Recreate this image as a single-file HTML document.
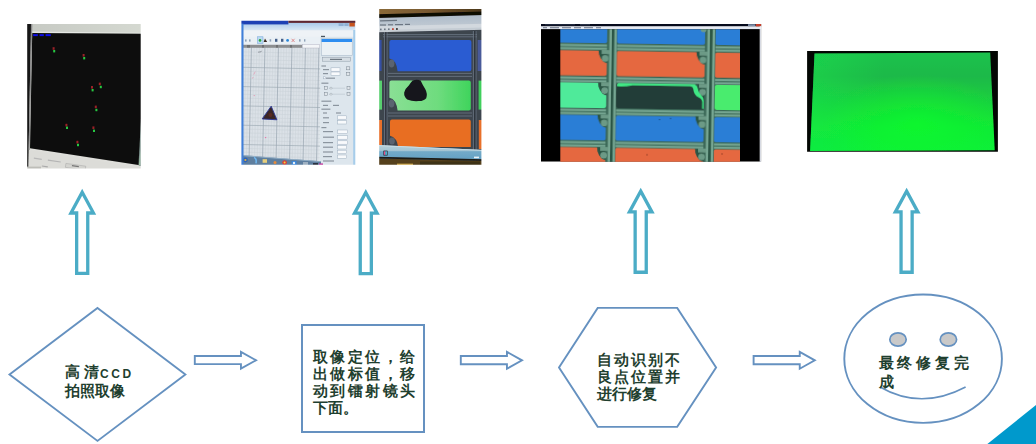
<!DOCTYPE html>
<html lang="zh">
<head>
<meta charset="utf-8">
<title>Repair flow</title>
<style>
html,body{margin:0;padding:0;background:#fff;}
body{width:1036px;height:444px;position:relative;overflow:hidden;font-family:"Liberation Serif",serif;}
#art{position:absolute;left:0;top:0;width:1036px;height:444px;display:block;}
.t{position:absolute;color:#1f3f2f;font-family:"Liberation Serif",serif;font-weight:bold;font-size:14.6px;line-height:17.3px;white-space:nowrap;margin:0;}
.t span.l{display:block;}
.ccd{font-family:"Liberation Sans",sans-serif;font-size:12px;letter-spacing:2.6px;font-weight:bold;margin-left:-2.6px;position:relative;top:0.6px;}
</style>
</head>
<body>
<svg id="art" width="1036" height="444" viewBox="0 0 1036 444">
  <!-- PHOTOS -->
  <defs>
    <filter id="b05" x="-5%" y="-5%" width="110%" height="110%"><feGaussianBlur stdDeviation="0.5"/></filter>
    <filter id="b06" x="-5%" y="-5%" width="110%" height="110%"><feGaussianBlur stdDeviation="0.6"/></filter>
    <filter id="b08" x="-5%" y="-5%" width="110%" height="110%"><feGaussianBlur stdDeviation="0.8"/></filter>
    <filter id="b12" x="-5%" y="-5%" width="110%" height="110%"><feGaussianBlur stdDeviation="1.2"/></filter>
    <clipPath id="c1"><rect x="27.2" y="24" width="113.5" height="144.6"/></clipPath>
    <clipPath id="c4"><rect x="541" y="24" width="220.3" height="137.7"/></clipPath>
    <clipPath id="c4g"><rect x="560.3" y="29.2" width="179.7" height="133"/></clipPath>
    <clipPath id="c5"><rect x="807.1" y="51" width="190.8" height="100.8"/></clipPath>
    <linearGradient id="g1top" x1="0" y1="0" x2="1" y2="0"><stop offset="0" stop-color="#c6c9c3"/><stop offset="1" stop-color="#d5d9d1"/></linearGradient>
    <linearGradient id="g5" x1="0" y1="0" x2="0" y2="1"><stop offset="0" stop-color="#1cc24e"/><stop offset="0.24" stop-color="#1fb948"/><stop offset="0.5" stop-color="#1ad03f"/><stop offset="0.75" stop-color="#12e836"/><stop offset="1" stop-color="#0cf038"/></linearGradient>
    <radialGradient id="g5r" cx="0.58" cy="0.72" r="0.5"><stop offset="0" stop-color="#0afc2a" stop-opacity="0.7"/><stop offset="1" stop-color="#0afc2a" stop-opacity="0"/></radialGradient>
    <linearGradient id="g5l" x1="0" y1="0" x2="1" y2="0"><stop offset="0" stop-color="#14e64c" stop-opacity="0.45"/><stop offset="0.4" stop-color="#14e64c" stop-opacity="0"/></linearGradient>
  </defs>

  <!-- photo 1 : CCD capture (black screen with markers) -->
  <g clip-path="url(#c1)">
    <g filter="url(#b05)">
      <rect x="24" y="20" width="120" height="152" fill="#dededa"/>
      <rect x="24" y="20" width="120" height="16" fill="url(#g1top)"/>
      <polygon points="31,31.6 144,32.8 144,33.8 31,32.8" fill="#e6e8e4"/>
      <polygon points="32.2,33 144,33.8 144,166.4 138.4,165 30,148.3" fill="#0f100f"/>
      <polygon points="26,22 31.2,22 28.2,170 26,170" fill="#161616"/>
      <polygon points="31,22 32.4,22 29.6,150 28.6,150" fill="#8c8c8c"/>
            <polygon points="141.4,112 138.5,165.2 141.4,166" fill="#7f9590"/>
      <polygon points="140.6,150 138.9,165.2 140.2,165.6" fill="#9fc4a4"/>
      <rect x="33.2" y="34.2" width="4.6" height="1.9" fill="#1010f0"/><rect x="39.6" y="34.2" width="4.2" height="1.9" fill="#1010f0"/><rect x="45.6" y="34.2" width="5.2" height="1.9" fill="#1010f0"/>
      <!-- bottom ui hints -->
      <polygon points="29,150 144,168 144,172 29,172" fill="#dcdcd8"/>
      <rect x="34" y="157.6" width="8" height="1.2" fill="#b8b8b8" transform="rotate(8 34 157)"/>
      <rect x="48" y="159.6" width="13" height="1.2" fill="#b4b4b4" transform="rotate(8 48 159)"/>
      <rect x="66" y="163.4" width="20" height="4" fill="#d4d4d0" stroke="#a8a8a8" stroke-width="0.5" transform="rotate(8 66 163)"/>
      <rect x="72" y="165" width="7" height="1.3" fill="#777" transform="rotate(8 72 165)"/>
      <rect x="27" y="166.6" width="14" height="2.4" fill="#bdbdb8"/>
      <rect x="42" y="165.4" width="6" height="1.2" fill="#aaa" transform="rotate(8 42 165)"/>
    </g>
    <g filter="url(#b05)">
      <g fill="#9a2028">
        <rect x="52.6" y="47.2" width="2" height="2.6"/><rect x="82.6" y="54" width="2" height="2.6"/>
        <rect x="91" y="86" width="2" height="2.6"/><rect x="98.8" y="82.6" width="2" height="2.6"/>
        <rect x="94.8" y="105.6" width="2" height="2.6"/><rect x="65.4" y="123.8" width="2" height="2.6"/>
        <rect x="92.4" y="126.4" width="2" height="2.6"/><rect x="76.4" y="140.8" width="2" height="2.6"/>
      </g>
      <g fill="#28c842">
        <rect x="53.2" y="50" width="2" height="2.4"/><rect x="83.2" y="57" width="2" height="2.4"/>
        <rect x="91.6" y="89" width="2" height="2.4"/><rect x="99.8" y="85.8" width="2" height="2.4"/>
        <rect x="95.4" y="108.8" width="2" height="2.4"/><rect x="66" y="126.6" width="2" height="2.4"/>
        <rect x="93" y="129.6" width="2" height="2.4"/><rect x="77" y="143.8" width="2" height="2.4"/>
      </g>
    </g>
  </g>

  <defs>
    <clipPath id="c2"><rect x="241.4" y="20.8" width="113.9" height="144"/></clipPath>
    <clipPath id="c3"><rect x="379.2" y="9.1" width="102.2" height="155.7"/></clipPath>
    <linearGradient id="g2bg" x1="0" y1="0" x2="1" y2="1"><stop offset="0" stop-color="#e9eef2"/><stop offset="1" stop-color="#dfe6ea"/></linearGradient>
    <linearGradient id="g2title" x1="0" y1="0" x2="0" y2="1"><stop offset="0" stop-color="#a9c9ea"/><stop offset="1" stop-color="#dbe8f4"/></linearGradient>
    <linearGradient id="g3bez" x1="0" y1="0" x2="1" y2="0"><stop offset="0" stop-color="#8a6a3a"/><stop offset="0.5" stop-color="#785830"/><stop offset="1" stop-color="#463417"/></linearGradient>
    <linearGradient id="g3chr" x1="0" y1="0" x2="0" y2="1"><stop offset="0" stop-color="#a4b2c2"/><stop offset="0.55" stop-color="#b6c2ce"/><stop offset="1" stop-color="#c9cfd5"/></linearGradient>
    <linearGradient id="g3grn" x1="0" y1="0" x2="1" y2="0"><stop offset="0" stop-color="#8adf95"/><stop offset="0.6" stop-color="#6edc7e"/><stop offset="1" stop-color="#3fd45c"/></linearGradient>
    <linearGradient id="g3task" x1="0" y1="0" x2="0" y2="1"><stop offset="0" stop-color="#b6d0da"/><stop offset="0.34" stop-color="#a6c6d4"/><stop offset="0.42" stop-color="#72aac8"/><stop offset="1" stop-color="#629fc2"/></linearGradient>
  </defs>

  <!-- photo 2 : laser software, grid with triangle target -->
  <g clip-path="url(#c2)">
    <g filter="url(#b06)">
      <rect x="238" y="18" width="120" height="150" fill="url(#g2bg)"/>
      <!-- top bars -->
      <rect x="238" y="22.8" width="120" height="7.8" fill="url(#g2title)"/>
      <rect x="238" y="18" width="50.4" height="6.4" fill="#1d40b4"/>
      <rect x="288.4" y="18" width="70" height="4.9" fill="#5e2630"/>
      <rect x="238" y="30.4" width="120" height="6.6" fill="#eef2f6"/>
      <rect x="338.6" y="23.2" width="5" height="2.8" fill="#8fb0d4"/><rect x="344.4" y="23.2" width="4.2" height="2.8" fill="#8fb0d4"/><rect x="349.4" y="22.9" width="5.4" height="3.6" fill="#c8521e"/>
      <!-- toolbar -->
      <rect x="238" y="36.6" width="82" height="7.6" fill="#eaf0f5"/>
      <rect x="257.6" y="36.8" width="5.4" height="6.6" fill="#bcd9f2" stroke="#6aa0d8" stroke-width="0.5"/>
      <circle cx="260" cy="40.4" r="1.3" fill="#2ea83a"/>
      <path d="M263.6 42 l1.4 -3.4 l2.2 3.4 z" fill="#3a2a24"/>
      <g fill="#8fa2b8"><rect x="245" y="39.4" width="1.6" height="2.2"/><rect x="249" y="39.4" width="1.6" height="2.2"/><rect x="269.6" y="39.2" width="1.6" height="2.4"/><rect x="299" y="39.2" width="1.6" height="2.4"/><rect x="304" y="39.2" width="1.4" height="2.4"/></g>
      <g fill="#44608a"><rect x="275" y="38.8" width="2.4" height="3"/><rect x="281" y="38.8" width="2.4" height="3"/></g>
      <circle cx="287.6" cy="40.4" r="1.4" fill="#2a86d8"/>
      <path d="M291.6 38.8 l3 3.2 m0 -3.2 l-3 3.2" stroke="#d86a6a" stroke-width="0.7" fill="none"/>
      <!-- ruler -->
      <!-- grid area -->
      <g transform="rotate(1.2 243 48)">
        <rect x="243" y="46" width="78" height="124" fill="#dbe1e7"/>
        <path d="M243 51.9H322M243 55.7H322M243 59.6H322M243 63.4H322M243 71.2H322M243 75.0H322M243 78.9H322M243 82.7H322M243 90.5H322M243 94.3H322M243 98.2H322M243 102.0H322M243 109.8H322M243 113.6H322M243 117.5H322M243 121.3H322M243 129.1H322M243 132.9H322M243 136.8H322M243 140.6H322M243 148.4H322M243 152.2H322M243 156.1H322M243 159.9H322M243 167.7H322" stroke="#c9d1d8" stroke-width="0.5" fill="none"/>
        <path d="M243.3 46V170M246.0 46V170M248.7 46V170M254.1 46V170M256.8 46V170M259.5 46V170M262.2 46V170M267.6 46V170M270.3 46V170M273.0 46V170M275.7 46V170M281.1 46V170M283.8 46V170M286.5 46V170M289.2 46V170M294.6 46V170M297.3 46V170M300.0 46V170M302.7 46V170M308.1 46V170M310.8 46V170M313.5 46V170M316.2 46V170" stroke="#c9d1d8" stroke-width="0.5" fill="none"/>
        <path d="M243 67.3H322M243 86.6H322M243 105.9H322M243 125.2H322M243 144.5H322M243 163.8H322" stroke="#a0adb6" stroke-width="0.7" fill="none"/>
        <path d="M251.4 46V170M264.9 46V170M278.4 46V170M291.9 46V170M305.4 46V170M318.9 46V170" stroke="#97a5af" stroke-width="0.7" fill="none"/>
      </g>
      <rect x="243" y="44.8" width="59.4" height="3" fill="#8c8e90"/>
      <rect x="302.4" y="44.6" width="17" height="3.4" fill="#f4f6f8" stroke="#aab" stroke-width="0.4"/>
      <g fill="#6e7072"><rect x="247" y="45" width="3" height="2.6"/><rect x="262" y="45" width="2" height="2.6"/><rect x="276" y="45" width="2" height="2.6"/><rect x="290" y="45" width="2" height="2.6"/></g>
      <!-- small marks -->
      <path d="M258 52.2 l3 -0.4 l0.6 -1" stroke="#6a7078" stroke-width="0.6" fill="none"/>
      <path d="M253.8 74.6 l1.4 -3 M252.4 78.6 l0.8 -1.6" stroke="#e48aa8" stroke-width="0.6" fill="none"/>
      <circle cx="254.2" cy="95.6" r="0.6" fill="#e48aa8"/><circle cx="265.6" cy="137.6" r="0.7" fill="#ec6aa0"/>
      <!-- triangle -->
      <path d="M271.2 106.2 L276.9 119.8 L262.2 118.9 Z" fill="#3a2826" stroke="#2a3696" stroke-width="0.9" stroke-linejoin="round"/>
      <circle cx="270.4" cy="115" r="2" fill="#5a2a22"/>
      <!-- right panel -->
      <rect x="320.2" y="36.8" width="38" height="132" fill="#dde6ed"/>
      <rect x="321.4" y="38.8" width="30.8" height="16.6" fill="#ebf1f5" stroke="#9fb2c4" stroke-width="0.5"/>
      <rect x="321.6" y="39" width="30.4" height="3" fill="#2e8df0"/>
      <rect x="321" y="35.8" width="4" height="1.3" fill="#4a5560"/>
      <rect x="322.7" y="57.2" width="28" height="4" fill="#d6dee4" stroke="#8d9aa6" stroke-width="0.5"/>
      <rect x="330" y="58.8" width="12" height="1.2" fill="#6f7a84"/>
      <g fill="#8b959f">
        <rect x="321.4" y="65.4" width="4.6" height="1.2"/><rect x="323" y="69" width="6" height="1.2"/><rect x="323" y="73" width="5" height="1.2"/><rect x="326" y="77.6" width="9" height="1.2"/>
        <rect x="321.4" y="82.6" width="7" height="1.2"/>
        <rect x="321.4" y="100.6" width="10" height="1.2"/><rect x="323" y="104.8" width="5" height="1.2"/><rect x="333" y="104.8" width="6" height="1.2"/>
        <rect x="321.4" y="108.6" width="9" height="1.2"/><rect x="323" y="112.4" width="4" height="1.2"/><rect x="336" y="112.4" width="5" height="1.2"/>
        <rect x="323" y="117.2" width="6" height="1.2"/><rect x="323" y="122" width="6" height="1.2"/>
        <rect x="321.4" y="127" width="5" height="1.2"/><rect x="323" y="131" width="10" height="1.2"/><rect x="323" y="136.6" width="11" height="1.2"/>
        <rect x="323" y="142" width="10" height="1.2"/><rect x="323" y="146.6" width="10" height="1.2"/><rect x="323" y="151.4" width="10" height="1.2"/>
        <rect x="323" y="156" width="9" height="1.2"/><rect x="323" y="160.4" width="11" height="1.2"/>
      </g>
      <g fill="#f8fafc" stroke="#9fb0c0" stroke-width="0.5">
        <rect x="331" y="67.8" width="9" height="3.4"/><rect x="331" y="72" width="9" height="3.4"/><rect x="323.6" y="76.8" width="2" height="2"/>
        <rect x="337.6" y="115.8" width="9" height="3.4"/><rect x="337.6" y="120.6" width="9" height="3.4"/>
        <rect x="337.6" y="130" width="10" height="3.6"/><rect x="337.6" y="135.6" width="10" height="3.6"/><rect x="337.6" y="140.8" width="10" height="3.4"/>
        <rect x="337.6" y="145.6" width="9" height="3.4"/><rect x="337.6" y="150.2" width="9" height="3.4"/><rect x="337.6" y="155" width="9" height="3.4"/>
      </g>
      <g fill="#dfe5ea" stroke="#7c8792" stroke-width="0.5">
        <rect x="346.6" y="66.8" width="3.2" height="3"/><rect x="346.6" y="72.4" width="3.2" height="3"/>
        <rect x="324.4" y="86.6" width="3" height="3"/><rect x="347" y="86.6" width="3" height="3"/><rect x="324.4" y="92.6" width="3" height="3"/><rect x="347" y="92.6" width="3" height="3"/>
      </g>
      <path d="M329 88.2H345M329 94.2H345" stroke="#aebac4" stroke-width="0.5"/>
      <circle cx="331" cy="88.2" r="1" fill="#f4f6f8" stroke="#7a8894" stroke-width="0.4"/><circle cx="331" cy="94.2" r="1" fill="#f4f6f8" stroke="#7a8894" stroke-width="0.4"/>
      <!-- taskbar -->
      <polygon points="238,154.8 321,161.2 321,170 238,170" fill="#5f7f9f"/>
      <polygon points="238,154.8 321,161.2 321,162 238,155.8" fill="#9bb6cc"/>
      <circle cx="245.4" cy="160" r="2.4" fill="#2f63b8"/><circle cx="245.4" cy="160" r="1.1" fill="#e8b43a"/>
      <path d="M254 157.4 q3 1 2 6" stroke="#6fb6ee" stroke-width="1.6" fill="none"/>
      <rect x="262.6" y="159.2" width="4.4" height="3.6" fill="#e8cf7c"/>
      <circle cx="275" cy="162.4" r="1.5" fill="#e88c3a"/>
      <circle cx="284.6" cy="162.6" r="2.4" fill="#d8443a"/><circle cx="284.6" cy="162.6" r="1" fill="#f2d23a"/>
      <rect x="291.6" y="161" width="5" height="4" fill="#3b86d8"/><circle cx="294" cy="163" r="1.2" fill="#e8f0f8"/>
      <rect x="303" y="162" width="5" height="3" fill="#9fb1c2"/>
      <rect x="313" y="163" width="5" height="2.4" fill="#2a3340"/><rect x="319" y="163.4" width="4" height="2" fill="#c33ea0"/>
      <!-- window edges -->
      <rect x="238" y="23.6" width="5.5" height="150" fill="#3f7fd8"/>
      
      <rect x="353.2" y="30" width="3" height="140" fill="#a6cdea"/>
    </g>
  </g>

  <!-- photo 3 : microscope view on monitor, black particle on green cell -->
  <g clip-path="url(#c3)">
    <g filter="url(#b06)">
      <rect x="376" y="6" width="110" height="162" fill="#3d444e"/>
      <!-- neighbours left/right -->
      <rect x="376" y="40" width="5.6" height="31" fill="#3450a4"/><rect x="376" y="80.6" width="6" height="29" fill="#58d070"/><rect x="376" y="120" width="6" height="27" fill="#e8702a"/>
      <rect x="477.6" y="40" width="8" height="31" fill="#4a5a9a"/><rect x="478.6" y="80.6" width="8" height="29" fill="#3fcf5c"/><rect x="478.8" y="120" width="8" height="29" fill="#e8702a"/>
      <!-- frame light lines -->
      <g stroke="#687380" stroke-width="0.9" fill="none">
        <path d="M383 34.6H477M383 36.8H477M388 73.4H472M388 76.4H472M388 113H472M388 116H472"/>
        <path d="M384.6 31V150M387 31V150M473.4 31V150M476 31V150"/>
      </g>
      <g stroke="#2a3038" stroke-width="1" fill="none"><path d="M385.8 31V150M474.8 31V150"/></g>
      <!-- cells -->
      <path d="M391.4 40 H469.4 q2 0 2 2 V69.2 q0 2 -2 2 H397.6 q-0.6 -5.4 -2.4 -8.6 q-2.4 -3.6 -5.8 -4.2 V42 q0 -2 2 -2 Z" fill="#2a5bd2"/>
      <path d="M391.4 80.6 H468.8 q2 0 2 2 V108.5 q0 2 -2 2 H397.6 q-0.6 -5.4 -2.4 -8.6 q-2.4 -3.6 -5.8 -4.2 V82.6 q0 -2 2 -2 Z" fill="url(#g3grn)"/>
      <path d="M392 119.6 H468.8 q2 0 2 2 V147 H398 q-0.6 -5.4 -2.4 -7.6 q-2.4 -3 -5.6 -3.6 V121.6 q0 -2 2 -2 Z" fill="#e86e20"/>
      <g fill="#5a6470"><ellipse cx="391.6" cy="63.6" rx="2.8" ry="4"/><ellipse cx="391.6" cy="103.6" rx="2.8" ry="4"/><ellipse cx="392" cy="141" rx="2.8" ry="3.6"/></g>
      <!-- particle -->
      <path d="M412.6 80.6 q4.4 -1.6 8 0 q1.8 4 4.6 8.4 q2.6 4.6 1 9.2 q-2.6 3 -7.6 2.8 q-6 0.6 -11.4 -1.6 q-3.4 -2.8 -3 -7 q1.2 -4.2 4.6 -7 q1.8 -2.4 3.8 -4.8 Z" fill="#15171a"/>
      <!-- window chrome + bezel -->
      <polygon points="376,6 486,6 486,29.8 376,32.2" fill="url(#g3chr)"/>
      <polygon points="376,26.4 486,23.6 486,27.4 376,30" fill="#d2d8de"/>
      <polygon points="376,6 486,6 486,14.9 376,18" fill="#0c0806"/>
      <polygon points="376,6 486,6 486,11.5 376,14.2" fill="url(#g3bez)"/>
      <g fill="#6c7682"><rect x="380" y="20.2" width="17" height="1.2" transform="rotate(-1.5 380 20)"/><rect x="380" y="24.4" width="6" height="1.2"/><rect x="388" y="24.2" width="5" height="1.2"/><rect x="395" y="24" width="8" height="1.2"/><rect x="405" y="23.8" width="5" height="1.2"/>
      <rect x="380" y="28.6" width="1.6" height="1.6"/><rect x="384" y="28.5" width="1.6" height="1.6"/><rect x="388" y="28.4" width="1.6" height="1.6"/></g>
      <rect x="392" y="28.2" width="1.8" height="1.8" fill="#c34a3a"/><rect x="396" y="28.1" width="1.8" height="1.8" fill="#3a3a3a"/>
      <!-- taskbar -->
      <polygon points="376,145 486,150 486,161 376,158.6" fill="url(#g3task)"/>
      <polygon points="376,145 486,150 486,150.8 376,145.9" fill="#c9dde6"/>
      <rect x="383.2" y="150.4" width="4.6" height="5.4" rx="0.8" fill="#3a4a5a"/><rect x="384" y="151.4" width="1.4" height="3.4" fill="#e84a8a"/><rect x="385.4" y="151.4" width="1.4" height="3.4" fill="#4ad0e8"/>
      <rect x="474" y="156.6" width="5" height="1.6" fill="#e8f2f8"/>
      <polygon points="376,158.4 486,160.8 486,168 376,168" fill="#54401c"/>
      <polygon points="376,156.8 486,159.2 486,161 376,158.6" fill="#1e1a14"/>
      <rect x="397" y="163.6" width="16" height="1.6" fill="#c8a040"/><rect x="420" y="161.6" width="60" height="3.4" fill="#3e3018"/>
    </g>
  </g>

  <!-- photo 4 : microscope view with defect cell -->
  <g clip-path="url(#c4)">
    <rect x="541" y="24" width="220.3" height="137.7" fill="#000"/>
    <g clip-path="url(#c4g)">
    <g filter="url(#b06)" transform="rotate(0.9 660 93)">
      <rect x="540" y="10" width="230" height="170" fill="#3b6857"/>
      <g fill="#76a692"><rect x="540" y="45.4" width="230" height="2.1"/><rect x="540" y="48.6" width="230" height="2.1"/><rect x="540" y="78.1" width="230" height="2.1"/><rect x="540" y="81.3" width="230" height="2.1"/><rect x="540" y="110.2" width="230" height="2.1"/><rect x="540" y="113.4" width="230" height="2.1"/><rect x="540" y="142.5" width="230" height="2.1"/><rect x="540" y="145.7" width="230" height="2.1"/></g>
      <g fill="#3b6857"><rect x="606.3" y="10" width="10" height="170"/><rect x="704.2" y="10" width="10.6" height="170"/></g>
      <g fill="#76a692"><rect x="608.6" y="10" width="2.4" height="170"/><rect x="613.4" y="10" width="2.4" height="170"/><rect x="706.6" y="10" width="2.6" height="170"/><rect x="711.6" y="10" width="2.5" height="170"/></g>
      <g fill="#2b5445"><rect x="611" y="10" width="2.3" height="170"/><rect x="709.2" y="10" width="2.3" height="170"/></g>
      <path d="M540.0 -20.0 H604.5 Q606.3 -20.0 606.3 -18.2 V42.3 Q606.3 44.1 604.5 44.1 H540.0 Z" fill="#2a7ed6"/>
      <path d="M597.7 51.3 L598.3 55.3 Q599.7 59.7 602.3 62.3 Q604.3 63.7 606.5 64.1 V51.3 Z" fill="#2b5445"/><rect x="601.1" y="51.0" width="8" height="3.9" fill="#6c9a86"/><circle cx="604.6" cy="59.4" r="3.3" fill="#6c9a86"/><path d="M540.0 51.7 H597.9 L598.3 55.3 Q599.7 59.7 602.3 62.3 Q604.3 63.7 606.3 64.1 V75.0 Q606.3 76.8 604.5 76.8 H540.0 Z" fill="#e5673f"/>
      <path d="M597.7 83.5 L598.3 87.5 Q599.7 91.9 602.3 94.5 Q604.3 95.9 606.5 96.3 V83.5 Z" fill="#2b5445"/><rect x="601.1" y="83.2" width="8" height="3.9" fill="#6c9a86"/><circle cx="604.6" cy="91.6" r="3.3" fill="#6c9a86"/><path d="M540.0 83.9 H597.9 L598.3 87.5 Q599.7 91.9 602.3 94.5 Q604.3 95.9 606.3 96.3 V107.1 Q606.3 108.9 604.5 108.9 H540.0 Z" fill="#4fea9a"/>
      <path d="M597.7 115.8 L598.3 119.8 Q599.7 124.2 602.3 126.8 Q604.3 128.2 606.5 128.6 V115.8 Z" fill="#2b5445"/><rect x="601.1" y="115.5" width="8" height="3.9" fill="#6c9a86"/><circle cx="604.6" cy="123.9" r="3.3" fill="#6c9a86"/><path d="M540.0 116.2 H597.9 L598.3 119.8 Q599.7 124.2 602.3 126.8 Q604.3 128.2 606.3 128.6 V139.4 Q606.3 141.2 604.5 141.2 H540.0 Z" fill="#2a7ed6"/>
      <path d="M597.7 148.2 L598.3 152.2 Q599.7 156.6 602.3 159.2 Q604.3 160.6 606.5 161.0 V148.2 Z" fill="#2b5445"/><rect x="601.1" y="147.9" width="8" height="3.9" fill="#6c9a86"/><circle cx="604.6" cy="156.3" r="3.3" fill="#6c9a86"/><path d="M540.0 148.6 H597.9 L598.3 152.2 Q599.7 156.6 602.3 159.2 Q604.3 160.6 606.3 161.0 V188.2 Q606.3 190.0 604.5 190.0 H540.0 Z" fill="#e5673f"/>
      <path d="M618.1 -20.0 H702.4 Q704.2 -20.0 704.2 -18.2 V42.3 Q704.2 44.1 702.4 44.1 H618.1 Q616.3 44.1 616.3 42.3 V-18.2 Q616.3 -20.0 618.1 -20.0 Z" fill="#2a7ed6"/>
      <path d="M695.6 51.3 L696.2 55.3 Q697.6 59.7 700.2 62.3 Q702.2 63.7 704.4 64.1 V51.3 Z" fill="#2b5445"/><rect x="699.0" y="51.0" width="8" height="3.9" fill="#6c9a86"/><circle cx="702.5" cy="59.4" r="3.3" fill="#6c9a86"/><path d="M618.1 51.7 H695.8 L696.2 55.3 Q697.6 59.7 700.2 62.3 Q702.2 63.7 704.2 64.1 V75.0 Q704.2 76.8 702.4 76.8 H618.1 Q616.3 76.8 616.3 75.0 V53.5 Q616.3 51.7 618.1 51.7 Z" fill="#e5673f"/>
      <path d="M695.6 83.5 L696.2 87.5 Q697.6 91.9 700.2 94.5 Q702.2 95.9 704.4 96.3 V83.5 Z" fill="#2b5445"/><rect x="699.0" y="83.2" width="8" height="3.9" fill="#6c9a86"/><circle cx="702.5" cy="91.6" r="3.3" fill="#6c9a86"/><path d="M618.1 83.9 H695.8 L696.2 87.5 Q697.6 91.9 700.2 94.5 Q702.2 95.9 704.2 96.3 V107.1 Q704.2 108.9 702.4 108.9 H618.1 Q616.3 108.9 616.3 107.1 V85.7 Q616.3 83.9 618.1 83.9 Z" fill="#223e37"/>
      <path d="M695.6 115.8 L696.2 119.8 Q697.6 124.2 700.2 126.8 Q702.2 128.2 704.4 128.6 V115.8 Z" fill="#2b5445"/><rect x="699.0" y="115.5" width="8" height="3.9" fill="#6c9a86"/><circle cx="702.5" cy="123.9" r="3.3" fill="#6c9a86"/><path d="M618.1 116.2 H695.8 L696.2 119.8 Q697.6 124.2 700.2 126.8 Q702.2 128.2 704.2 128.6 V139.4 Q704.2 141.2 702.4 141.2 H618.1 Q616.3 141.2 616.3 139.4 V118.0 Q616.3 116.2 618.1 116.2 Z" fill="#2a7ed6"/>
      <path d="M695.6 148.2 L696.2 152.2 Q697.6 156.6 700.2 159.2 Q702.2 160.6 704.4 161.0 V148.2 Z" fill="#2b5445"/><rect x="699.0" y="147.9" width="8" height="3.9" fill="#6c9a86"/><circle cx="702.5" cy="156.3" r="3.3" fill="#6c9a86"/><path d="M618.1 148.6 H695.8 L696.2 152.2 Q697.6 156.6 700.2 159.2 Q702.2 160.6 704.2 161.0 V188.2 Q704.2 190.0 702.4 190.0 H618.1 Q616.3 190.0 616.3 188.2 V150.4 Q616.3 148.6 618.1 148.6 Z" fill="#e5673f"/>
      <path d="M716.6 -20.0 H768.2 Q770.0 -20.0 770.0 -18.2 V42.3 Q770.0 44.1 768.2 44.1 H716.6 Q714.8 44.1 714.8 42.3 V-18.2 Q714.8 -20.0 716.6 -20.0 Z" fill="#2a7ed6"/>
      <path d="M716.6 51.7 H768.2 Q770.0 51.7 770.0 53.5 V75.0 Q770.0 76.8 768.2 76.8 H716.6 Q714.8 76.8 714.8 75.0 V53.5 Q714.8 51.7 716.6 51.7 Z" fill="#e5673f"/>
      <path d="M716.6 83.9 H768.2 Q770.0 83.9 770.0 85.7 V107.1 Q770.0 108.9 768.2 108.9 H716.6 Q714.8 108.9 714.8 107.1 V85.7 Q714.8 83.9 716.6 83.9 Z" fill="#48ec6e"/>
      <path d="M716.6 116.2 H768.2 Q770.0 116.2 770.0 118.0 V139.4 Q770.0 141.2 768.2 141.2 H716.6 Q714.8 141.2 714.8 139.4 V118.0 Q714.8 116.2 716.6 116.2 Z" fill="#2a7ed6"/>
      <path d="M716.6 148.6 H768.2 Q770.0 148.6 770.0 150.4 V188.2 Q770.0 190.0 768.2 190.0 H716.6 Q714.8 190.0 714.8 188.2 V150.4 Q714.8 148.6 716.6 148.6 Z" fill="#e5673f"/>
      <circle cx="702.6" cy="28.4" r="3" fill="#6c9a86"/>
      <path d="M616.9 86.7 Q616.6999999999999 83.7 619.3 83.7 H693.2 Q696.6 83.9 697.4000000000001 87.30000000000001 Q698.2 91.9 700.8000000000001 94.30000000000001 Q703.6 96.30000000000001 703.8000000000001 99.9 V107.9 H702.4000000000001 V100.9 Q701.8000000000001 97.7 698.2 96.5 Q693.8000000000001 94.5 693.2 88.30000000000001 Q692.8000000000001 85.9 690.2 85.7 H632.3 Q624.3 87.5 616.9 86.7 Z" fill="#3fe884"/>
      <circle cx="660" cy="119.6" r="0.7" fill="#1b3f6a"/><circle cx="671" cy="118.4" r="0.6" fill="#1b3f6a"/><circle cx="648" cy="155" r="0.7" fill="#8a3a24"/><circle cx="723" cy="153" r="0.7" fill="#8a3a24"/>
    </g>
    </g>
    <!-- window chrome -->
    <rect x="541" y="24" width="220.3" height="2.3" fill="#060a1c"/>
    <rect x="541" y="26.2" width="220.3" height="2.9" fill="#e6eaf3"/>
    <g fill="#848c9c"><rect x="543" y="27" width="4" height="1.3"/><rect x="550" y="27" width="9" height="1.3"/><rect x="562" y="27" width="9" height="1.3"/><rect x="574" y="27" width="7" height="1.3"/><rect x="584" y="27" width="9" height="1.3"/><rect x="596" y="27" width="5" height="1.3"/></g>
    <rect x="580" y="24.3" width="10" height="1" fill="#3a4258"/><rect x="545" y="24.3" width="30" height="1" fill="#2a3248"/>
    <rect x="755.8" y="24" width="5.5" height="2.4" fill="#c8402c"/><rect x="748" y="24.2" width="7.4" height="2" fill="#7f8fa8"/>
    <rect x="759.7" y="26.2" width="1.6" height="136" fill="#eceef4"/><rect x="760.3" y="29" width="0.4" height="133" fill="#b8bcc8"/>
  </g>

  <!-- photo 5 : repaired panel, all green -->
  <g clip-path="url(#c5)">
    <rect x="807" y="51" width="191" height="101" fill="#030603"/>
    <g filter="url(#b05)">
      <polygon points="814.5,53.5 990.2,52.6 994.7,150.3 810.1,151" fill="url(#g5)"/>
      <polygon points="814.5,53.5 990.2,52.6 994.7,150.3 810.1,151" fill="url(#g5l)"/>
      <polygon points="814.5,53.5 990.2,52.6 994.7,150.3 810.1,151" fill="url(#g5r)"/>
    </g>
  </g>

  <!-- up arrows -->
  <defs><path id="ua" d="M0 3.35 L11.25 24.05 L5.55 24.05 L5.55 84.45 L-5.55 84.45 L-5.55 24.05 L-11.25 24.05 Z"/></defs>
  <g fill="#fff" stroke="#4bacc6" stroke-width="3.3" stroke-linejoin="miter">
    <use href="#ua" x="82.2" y="188.95"/>
    <use href="#ua" x="365.8" y="189.1"/>
    <use href="#ua" x="640.7" y="187.8"/>
    <use href="#ua" x="906.6" y="187.8"/>
  </g>

  <!-- flow shapes -->
  <g fill="#fff" stroke="#6591c0" stroke-width="1.9" stroke-linejoin="miter">
    <path d="M97.5 308 L185.4 374.45 L97.5 440.9 L9.5 374.45 Z"/>
    <rect x="302" y="325" width="122" height="107" stroke-width="2"/>
    <path d="M597.7 307.9 L677.2 307.9 L716.1 367.4 L677.2 426.85 L597.7 426.85 L559 367.4 Z"/>
    <ellipse cx="923.1" cy="358.7" rx="78.8" ry="64.2"/>
    <ellipse cx="898" cy="339.5" rx="8.2" ry="6.7" fill="#c9c9c9" stroke-width="1.7"/>
    <ellipse cx="948.4" cy="339.5" rx="8.2" ry="6.7" fill="#c9c9c9" stroke-width="1.7"/>
    <path d="M880 387 Q921 410.6 965.6 387" fill="none" stroke-width="1.6"/>
    <!-- right arrows -->
    <path id="ra" d="M194.8 355.95 L240.95 355.95 L240.95 351.85 L256 360.25 L240.95 368.65 L240.95 364.15 L194.8 364.15 Z"/>
    <use href="#ra" x="266" y="0.1"/>
    <use href="#ra" x="558.8" y="0.1"/>
  </g>

  <!-- corner accent -->
  <path d="M987.4 444 L1036 404.9 L1036 444 Z" fill="#0099cc"/>
</svg>

<p class="t" style="left:64.5px;top:364.3px;"><span class="l"><span style="letter-spacing:4px">高清</span><span class="ccd">CCD</span></span><span class="l">拍照取像</span></p>
<p class="t" style="left:313px;top:348.5px;"><span class="l" style="letter-spacing:2.4px">取像定位，给</span><span class="l" style="letter-spacing:2.4px">出做标值，移</span><span class="l" style="letter-spacing:2.4px">动到镭射镜头</span><span class="l">下面。</span></p>
<p class="t" style="left:596.5px;top:351.8px;"><span class="l" style="letter-spacing:2px">自动识别不</span><span class="l" style="letter-spacing:2px">良点位置并</span><span class="l">进行修复</span></p>
<p class="t" style="left:878.5px;top:353.8px;line-height:19px;"><span class="l" style="letter-spacing:3.8px">最终修复完</span><span class="l">成</span></p>
</body>
</html>
